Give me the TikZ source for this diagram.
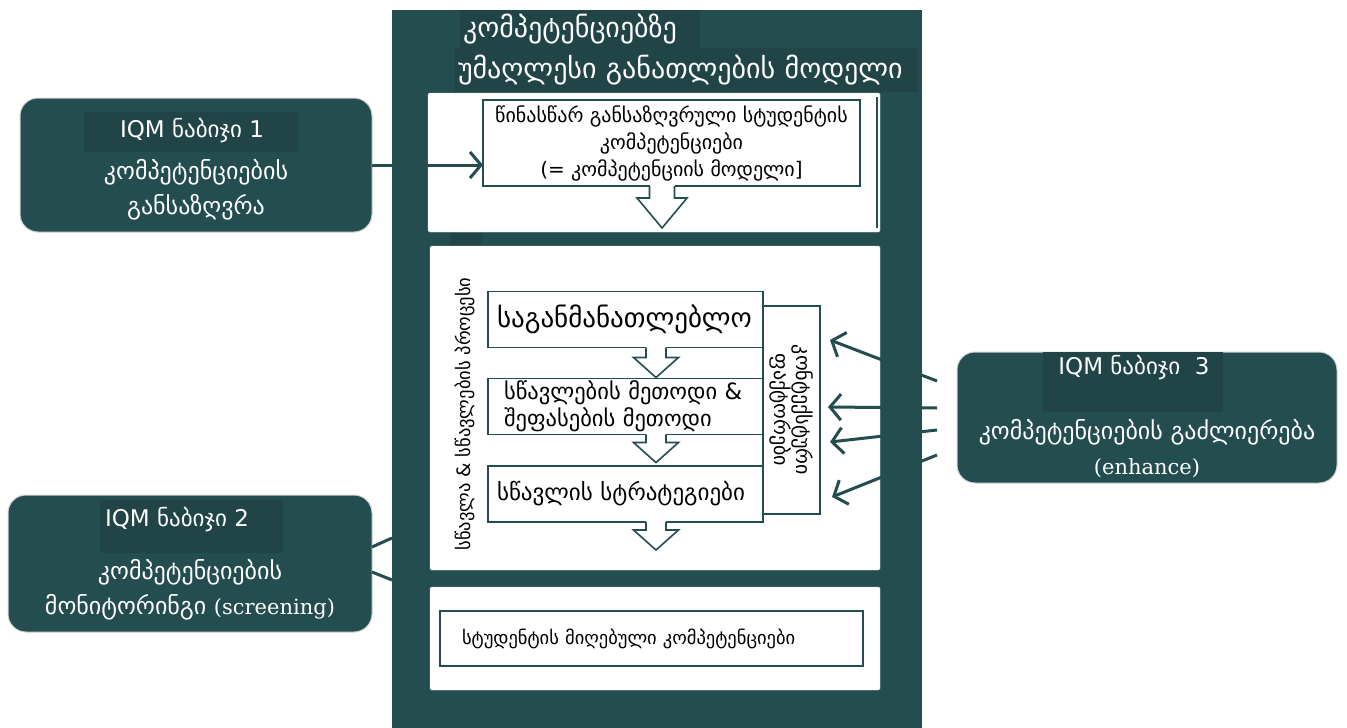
\documentclass[tikz,border=0pt]{standalone}
\usepackage{fontspec}
\setmainfont{DejaVu Sans}
\newfontfamily\serifrm{DejaVu Serif}
\usetikzlibrary{positioning,calc,arrows.meta}
\definecolor{iqmteal}{RGB}{36,77,80}
\definecolor{iqmdark}{RGB}{33,68,71}
\newcommand{\fs}[2]{\fontsize{#1}{#2}\selectfont}
\newcommand{\latin}[1]{{\fontsize{21}{35}\selectfont\serifrm #1}}
% open block arrow pointing down: start, shaft half width, head half width, shaft length, head length
\newcommand{\DownArrow}[5]{%
  \fill[white] (#1) ++(-#2,-3) rectangle ++(2*#2,4);
  \draw[blockarr] (#1) ++(-#2,0) -- ++(0,#4) -- ++(#2-#3,0) -- ++(#3,#5) -- ++(#3,-#5) -- ++(#2-#3,0) -- ++(0,-#4);}
\tikzset{
  panel/.style={fill=white, draw=gray!25, rounded corners=1.5pt, inner sep=0pt},
  frame/.style={draw=iqmteal, line width=1.6pt, fill=white},
  stage/.style={frame, minimum height=56, text width=257pt, inner xsep=9pt, align=left, font=\fs{23}{27}},
  band/.style={fill=iqmdark, text=white, align=left, inner xsep=3pt, font=\fs{28}{30}},
  stepbox/.style={fill=iqmteal, draw=gray!35, line width=1pt, rounded corners=18pt},
  stephead/.style={fill=iqmdark},
  steptag/.style={text=white, font=\fs{23}{26}},
  steptxt/.style={text=white, align=center, font=\fs{24}{35}},
  blockarr/.style={draw=iqmteal, line width=1.6pt, line join=miter},
  link/.style={draw=iqmteal, line width=3pt},
  barb/.style={link, -{Straight Barb[length=11pt,width=26pt]}}
}

\begin{document}
\begin{tikzpicture}[x=1pt, y=-1pt, every node/.style={inner sep=0pt, outer sep=0pt}]
  \useasboundingbox (0,0) rectangle (1347,728);
  % model column
  \node[fill=iqmteal, minimum width=530, minimum height=718] (Col) at (657,369) {};
  \node[band, text width=234pt, minimum height=38] (TitA) at (580,29) {კომპეტენციებზე};
  \node[band, text width=457pt, minimum height=44] (TitB) at (686.5,70) {უმაღლესი განათლების მოდელი};
  \node[panel, minimum width=452, minimum height=139] (PanA) at (654,162.5) {};
  \draw[iqmteal, line width=1.2pt] ($(PanA.north east)+(-3,4)$) -- ($(PanA.south east)+(-3,-4)$);
  \fill[iqmdark] (450,233) rectangle (482,245);
  \node[panel, minimum width=450, minimum height=324] (PanB) at (655,408) {};
  \node[panel, minimum width=450, minimum height=103] (PanC) at (655,638.5) {};

  \node[frame, minimum width=377, minimum height=86, align=center, font=\fs{20}{27}] (Def) at (671.5,143)
    {წინასწარ განსაზღვრული სტუდენტის\\კომპეტენციები\\(= კომპეტენციის მოდელი]};
  \DownArrow{$(Def.south)+(-9.5,0)$}{12.5}{25}{12}{30}

  \node[rotate=90, font=\fs{18.5}{20}] (Proc) at (465,414) {სწავლა \& სწავლების პროცესი};
  \node[stage, font=\fs{27}{30}] (Edu) at (625.5,319.5) {საგანმანათლებლო};
  \node[stage, text width=243pt, inner xsep=16pt, font=\fs{22.5}{27}] (Meth) at (625.5,406.5) {სწავლების მეთოდი \&\\შეფასების მეთოდი};
  \node[stage] (Strat) at (625.5,494) {სწავლის სტრატეგიები};
  \DownArrow{$(Edu.south)+(30.5,0)$}{10}{22.5}{10}{20}
  \DownArrow{$(Meth.south)+(30.5,0)$}{10}{22.5}{8}{20}
  \DownArrow{$(Strat.south)+(30.5,0)$}{10}{22.5}{8}{20}
  \node[frame, minimum width=208, minimum height=57, rotate=-90, align=center, font=\fs{20}{21}] (Ctx) at (791.5,410)
    {კონტექსტური\\ფაქტორები};

  \node[frame, minimum height=55, text width=379pt, inner xsep=22pt, align=left, font=\fs{18.5}{22}] (Res) at (651.5,638.5)
    {სტუდენტის მიღებული კომპეტენციები};

  % IQM steps
  \node[stepbox, minimum width=352, minimum height=134] (StepA) at (196,165) {};
  \node[stephead, minimum width=214, minimum height=40] (HeadA) at (191,132) {};
  \node[steptag] (TagA) at (192,131) {IQM ნაბიჯი 1};
  \node[steptxt] (TxtA) at (196,190) {კომპეტენციების\\განსაზღვრა};
  \draw[barb] (StepA.east) -- (StepA.east -| Def.west);

  \node[stepbox, minimum width=364, minimum height=137] (StepB) at (190,563.5) {};
  \draw[link] ($(StepB.east)+(0,-16.5)$) -- (392,538);
  \draw[link] ($(StepB.east)+(0,8.5)$) -- (392,580);
  \node[stephead, minimum width=183, minimum height=53] (HeadB) at (191.5,526.5) {};
  \node[steptag] (TagB) at (177,520) {IQM ნაბიჯი 2};
  \node[steptxt] (TxtB) at (190,590) {კომპეტენციების\\მონიტორინგი \latin{(screening)}};

  \node[stepbox, minimum width=380, minimum height=131] (StepC) at (1147,417.5) {};
  \node[stephead, minimum width=180, minimum height=60] (HeadC) at (1133,382) {};
  \node[steptag] (TagC) at (1134,368) {IQM ნაბიჯი~~3};
  \node[steptxt] (TxtC) at (1147,449) {კომპეტენციების გაძლიერება\\\latin{(enhance)}};
  \foreach \sy/\tx/\ty [count=\i] in {381/830/340, 408/828/407, 430/830/442, 455/832/497} {
    \coordinate (S\i) at (937,\sy);
    \coordinate (T\i) at (\tx,\ty);
    \draw[barb] (S\i) -- (T\i);
  }
\end{tikzpicture}
\end{document}
